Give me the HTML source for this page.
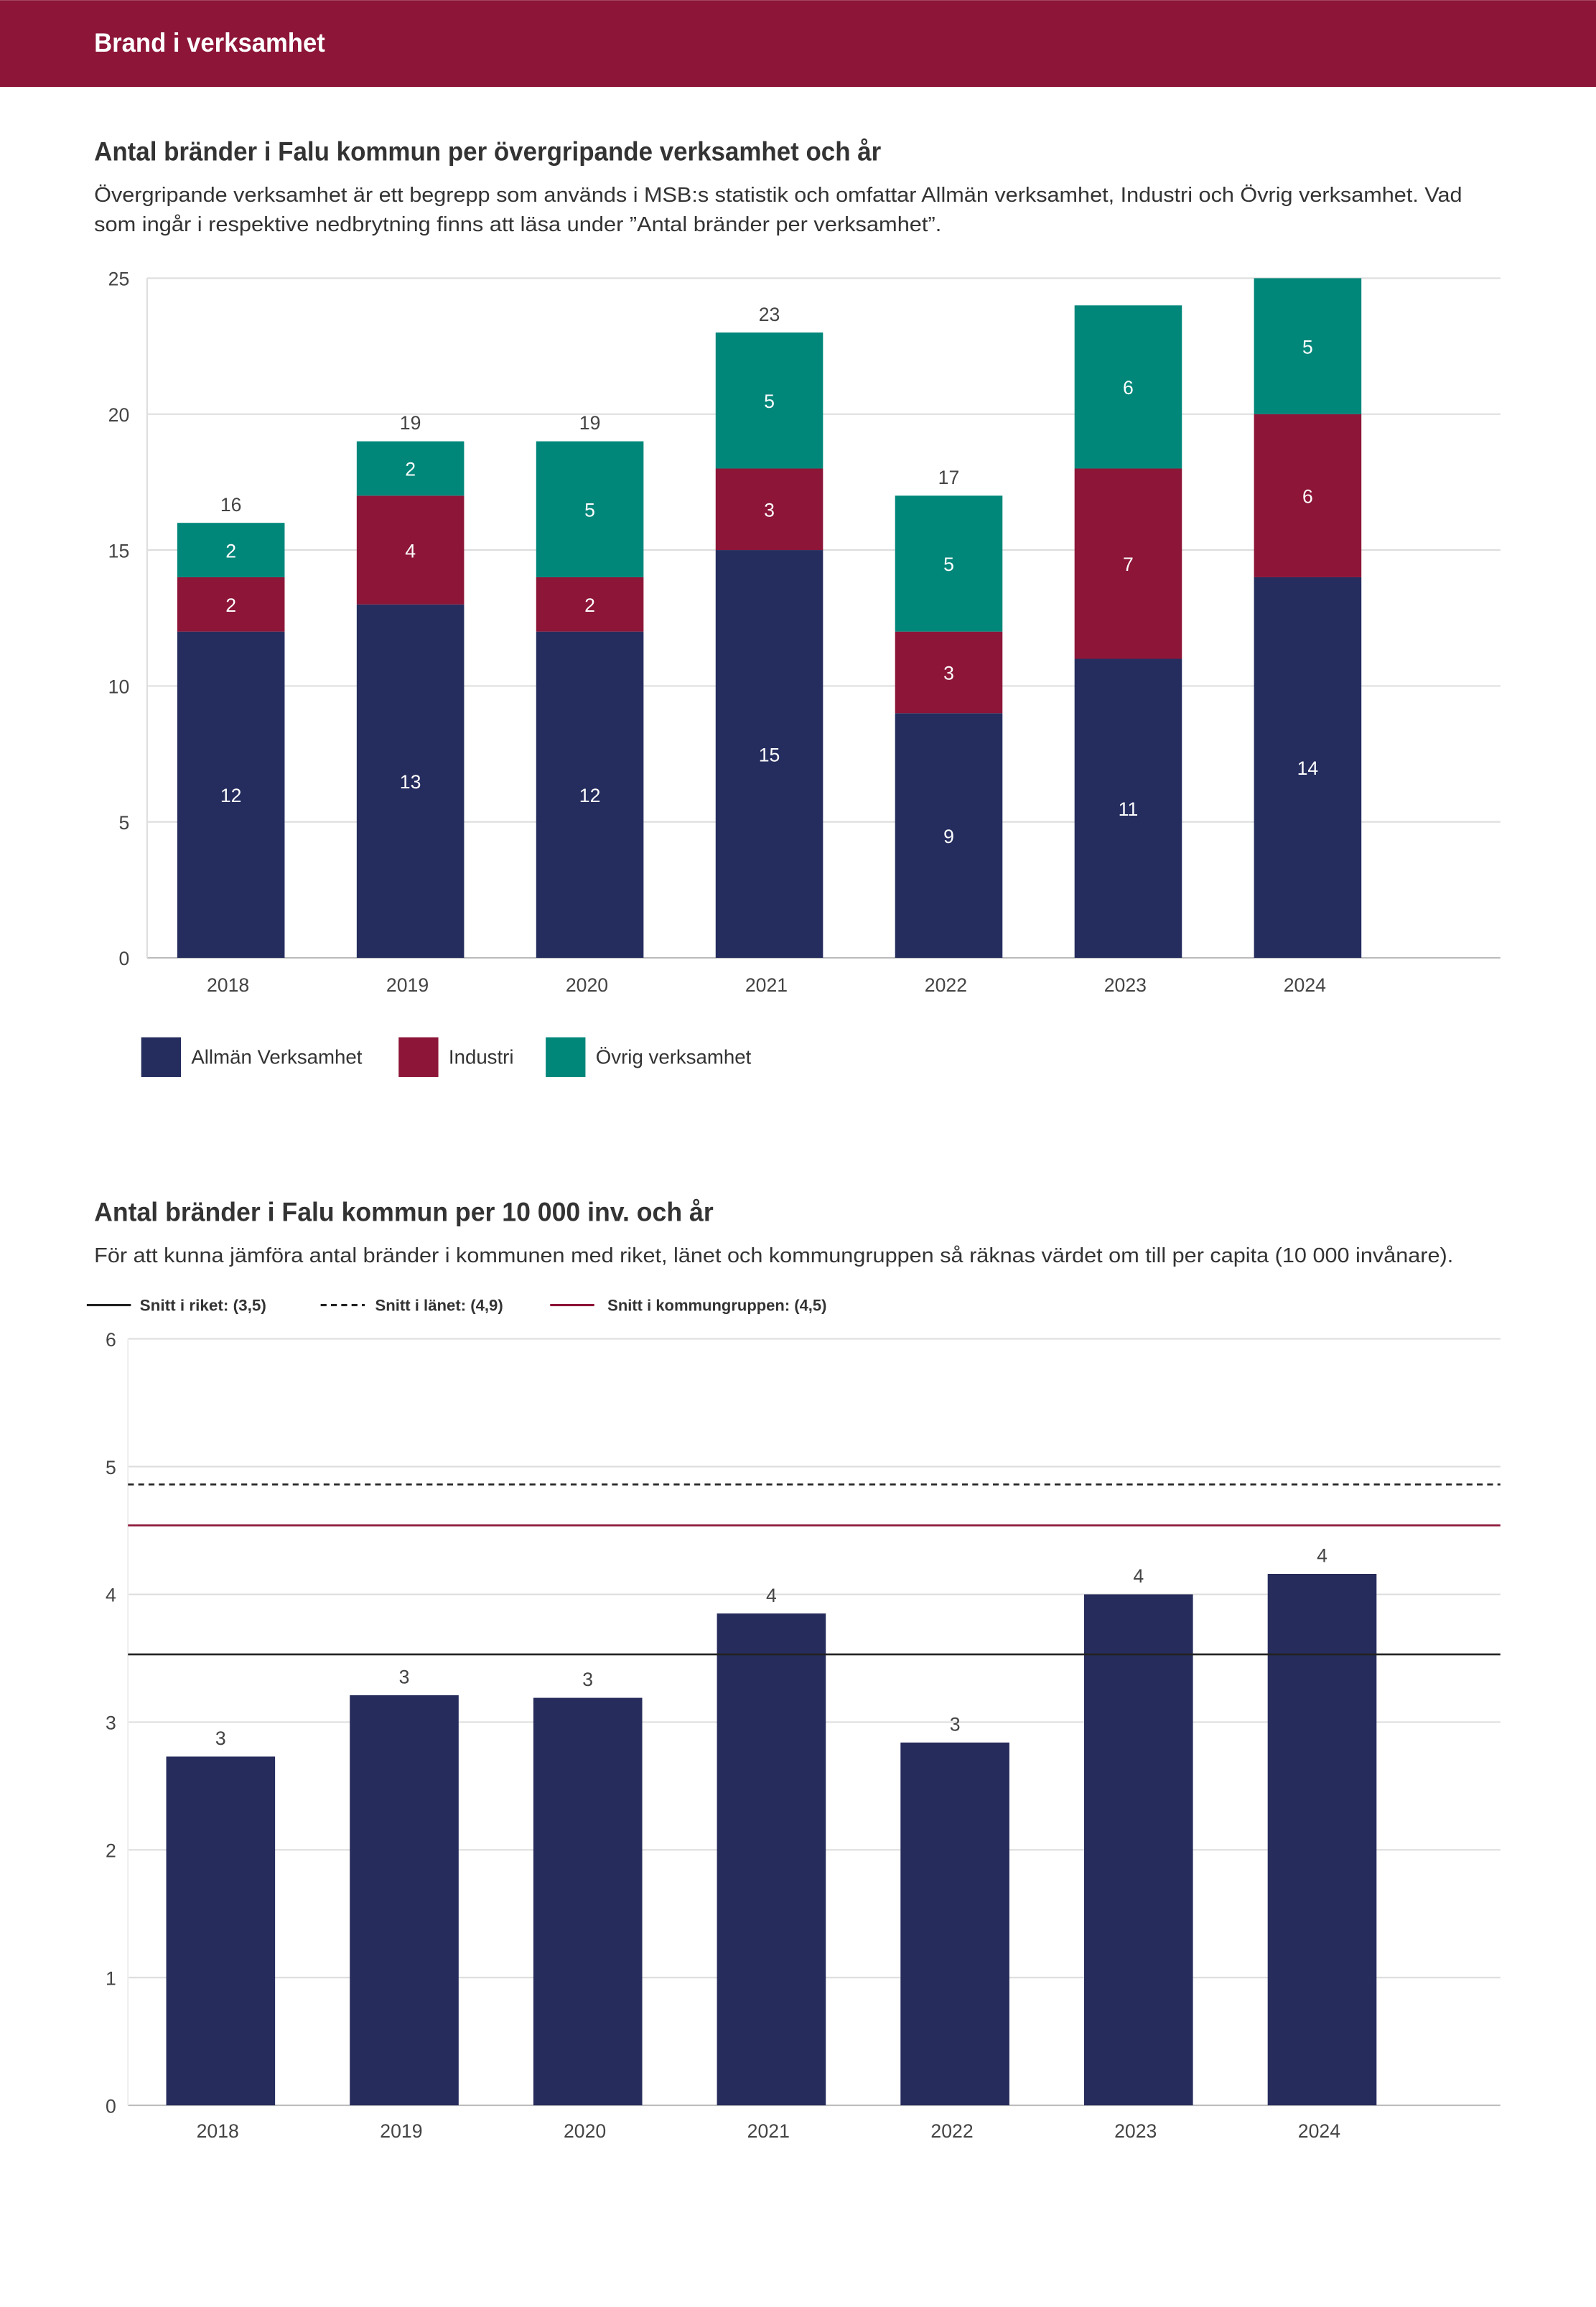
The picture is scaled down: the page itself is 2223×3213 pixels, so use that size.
<!DOCTYPE html>
<html><head><meta charset="utf-8"><style>
html,body{margin:0;padding:0;background:#fff;}
svg{display:block;font-family:"Liberation Sans",sans-serif;}
</style></head><body>
<svg id="page" width="2223" height="3213" viewBox="0 0 1085 1568" xmlns="http://www.w3.org/2000/svg">
<rect x="0" y="0" width="1085" height="59" fill="#8c1538"/>
<text x="64" y="35" font-size="18" font-weight="bold" fill="#fff" textLength="157" lengthAdjust="spacingAndGlyphs">Brand i verksamhet</text>

<text x="64" y="109" font-size="18" font-weight="bold" fill="#333" textLength="535" lengthAdjust="spacingAndGlyphs">Antal bränder i Falu kommun per övergripande verksamhet och år</text>
<text x="64" y="137" font-size="14" fill="#333" textLength="930" lengthAdjust="spacingAndGlyphs">Övergripande verksamhet är ett begrepp som används i MSB:s statistik och omfattar Allmän verksamhet, Industri och Övrig verksamhet. Vad</text>
<text x="64" y="157" font-size="14" fill="#333" textLength="576" lengthAdjust="spacingAndGlyphs">som ingår i respektive nedbrytning finns att läsa under ”Antal bränder per verksamhet”.</text>
<g id="chart1"></g>

<text x="64" y="830" font-size="18" font-weight="bold" fill="#333" textLength="421" lengthAdjust="spacingAndGlyphs">Antal bränder i Falu kommun per 10 000 inv. och år</text>
<text x="64" y="858" font-size="14" fill="#333" textLength="924" lengthAdjust="spacingAndGlyphs">För att kunna jämföra antal bränder i kommunen med riket, länet och kommungruppen så räknas värdet om till per capita (10 000 invånare).</text>
<g id="chart2"></g>
</svg>
<script>
// Chart 1 data
const years1 = ["2018","2019","2020","2021","2022","2023","2024"];
const allman = [12,13,12,15,9,11,14];
const industri = [2,4,2,3,3,7,6];
const ovrig = [2,2,5,5,5,6,5];
const yTicks1 = [0,5,10,15,20,25];
const seriesNames1 = ["Allmän Verksamhet","Industri","Övrig verksamhet"];

// Chart 2 data
const years2 = ["2018","2019","2020","2021","2022","2023","2024"];
const perCapita = [2.73,3.21,3.19,3.85,2.84,4.0,4.16];
const yTicks2 = [0,1,2,3,4,5,6];
const refNames = ["Snitt i riket: (3,5)","Snitt i länet: (4,9)","Snitt i kommungruppen: (4,5)"];
const refValues = [3.53,4.86,4.54];

const NS = "http://www.w3.org/2000/svg";
function mk(parent, tag, attrs, text) {
  const e = document.createElementNS(NS, tag);
  for (const k in attrs) e.setAttribute(k, attrs[k]);
  if (text !== undefined) e.textContent = text;
  parent.appendChild(e);
  return e;
}
const colors = ["#252d5e", "#8c1538", "#00877a"];

// ---- chart 1
(function(){
  const g = document.getElementById("chart1");
  const x0 = 100, x1 = 1020, yTop = 189, yBot = 651, maxV = 25;
  const y = v => yBot - (v / maxV) * (yBot - yTop);
  const band = 122, first = 157, bw = 73;
  const cx = i => first + i * band;
  yTicks1.forEach(t => {
    const l = mk(g, "line", {x1: x0, x2: x1, y1: y(t), y2: y(t), stroke: t === 0 ? "#bbb" : "#ddd", "stroke-width": 1});
    
    
    const tx = mk(g, "text", {x: 88, y: y(t) + 5, "font-size": 13, fill: "#444", "text-anchor": "end"}, String(t));
    
    
  });
  const ax = mk(g, "line", {x1: x0, x2: x0, y1: yTop, y2: yBot, stroke: "#ddd"});
  
  
  const series = [allman, industri, ovrig];
  years1.forEach((yr, i) => {
    let base = 0;
    series.forEach((s, si) => {
      const v = s[i];
      const r = mk(g, "rect", {x: cx(i) - bw / 2, y: y(base + v), width: bw, height: y(base) - y(base + v), fill: colors[si]});
      
      
      const t = mk(g, "text", {x: cx(i), y: (y(base) + y(base + v)) / 2 + 5, "font-size": 13, fill: "#fff", "text-anchor": "middle"}, String(v));
      
      
      base += v;
    });
    if (base < maxV * 0.95) {
      const tot = mk(g, "text", {x: cx(i), y: y(base) - 8, "font-size": 13, fill: "#444", "text-anchor": "middle"}, String(base));
      
      
    }
    const xl = mk(g, "text", {x: cx(i) - 2, y: 674, "font-size": 13, fill: "#444", "text-anchor": "middle"}, yr);
    
    
  });
  const lx = [96, 271, 371];
  seriesNames1.forEach((n, i) => {
    const sq = mk(g, "rect", {x: lx[i], y: 705, width: 27, height: 27, fill: colors[i]});
    
    
    const t = mk(g, "text", {x: lx[i] + 34, y: 723, "font-size": 13.5, fill: "#333"}, n);
    
    
  });
})();

// ---- chart 2
(function(){
  const g = document.getElementById("chart2");
  const x0 = 87, x1 = 1020, yTop = 910, yBot = 1431, maxV = 6;
  const y = v => yBot - (v / maxV) * (yBot - yTop);
  const band = 124.8, first = 150, bw = 74;
  const cx = i => first + i * band;
  yTicks2.forEach(t => {
    const l = mk(g, "line", {x1: x0, x2: x1, y1: y(t), y2: y(t), stroke: t === 0 ? "#bbb" : "#ddd", "stroke-width": 1});
    
    
    const tx = mk(g, "text", {x: 79, y: y(t) + 5, "font-size": 13, fill: "#444", "text-anchor": "end"}, String(t));
    
    
  });
  const ax = mk(g, "line", {x1: x0, x2: x0, y1: yTop, y2: yBot, stroke: "#eee"});
  
  
  years2.forEach((yr, i) => {
    const v = perCapita[i];
    const r = mk(g, "rect", {x: cx(i) - bw / 2, y: y(v), width: bw, height: yBot - y(v), fill: "#262c5c"});
    
    
    const t = mk(g, "text", {x: cx(i), y: y(v) - 8, "font-size": 13, fill: "#444", "text-anchor": "middle"}, String(Math.round(v)));
    
    
    const xl = mk(g, "text", {x: cx(i) - 2, y: 1453, "font-size": 13, fill: "#444", "text-anchor": "middle"}, yr);
    
    
  });
  const styles = [{stroke: "#222", dash: ""}, {stroke: "#222", dash: "4,3"}, {stroke: "#8c1538", dash: ""}];
  refValues.forEach((v, i) => {
    const l = mk(g, "line", {x1: x0, x2: x1, y1: y(v), y2: y(v), stroke: styles[i].stroke, "stroke-width": 1.3, "stroke-dasharray": styles[i].dash});
    
    
  });
  const lx = [59, 218, 374], tx = [95, 255, 413], tw = [86, 87, 149];
  refNames.forEach((n, i) => {
    const l = mk(g, "line", {x1: lx[i], x2: lx[i] + 30, y1: 887, y2: 887, stroke: styles[i].stroke, "stroke-width": 1.5, "stroke-dasharray": styles[i].dash});
    
    
    const t = mk(g, "text", {x: tx[i], y: 891, "font-size": 11, "font-weight": "bold", fill: "#333", textLength: tw[i], lengthAdjust: "spacingAndGlyphs"}, n);
    
    
  });
})();
</script>
</body></html>
